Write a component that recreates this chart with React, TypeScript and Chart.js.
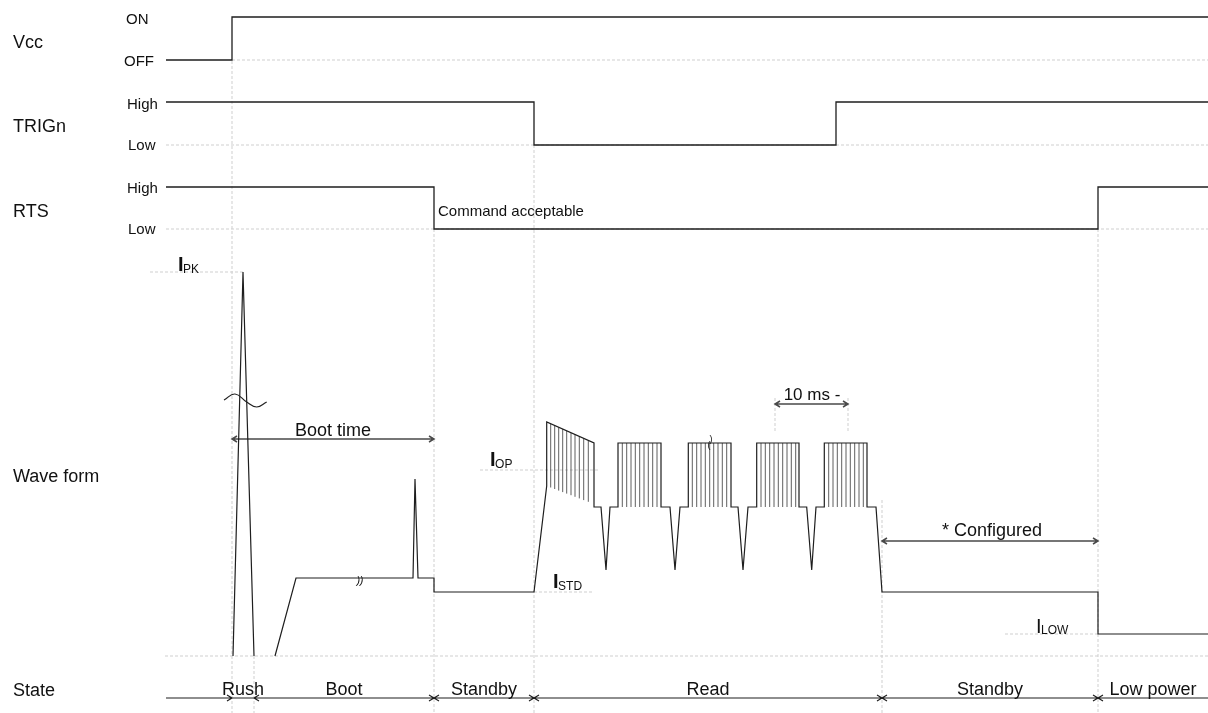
import React, { useEffect, useRef } from 'react';
import { Chart, registerables } from 'chart.js';

Chart.register(...registerables);

const W = 1208;
const H = 713;

// ---------- digital signals (time units, logic level) ----------
const vccTime = [166, 232, 232, 1208];
const vccLevel = [0, 0, 1, 1];
const trigTime = [166, 534, 534, 836, 836, 1208];
const trigLevel = [1, 1, 0, 0, 1, 1];
const rtsTime = [166, 434, 434, 1098, 1098, 1208];
const rtsLevel = [1, 1, 0, 0, 1, 1];

// ---------- current reference levels (arbitrary current units) ----------
const I_PK = 384;
const I_OP = 186;
const I_STD = 64;
const I_LOW = 22;

// ---------- current waveform ----------
const rushTime = [233, 243, 254];
const rushCurrent = [0, 384, 0];

const waveTime = [
  275, 296, 413, 415, 418, 434, 434, 534, 546.7, 546.7, 594, 594, 601, 606, 610,
  618, 618, 661, 661, 670, 675, 680, 688.3, 688.3, 731, 731, 738, 743, 748,
  756.7, 756.7, 799, 799, 806.7, 811.7, 816, 824.3, 824.3, 867, 867, 876, 882,
  1098, 1098, 1208,
];
const waveCurrent = [
  0, 78, 78, 177, 78, 78, 64, 64, 170, 234, 213, 149, 149, 86, 149,
  149, 213, 213, 149, 149, 86, 149, 149, 213, 213, 149, 149, 86, 149,
  149, 213, 213, 149, 149, 86, 149, 149, 213, 213, 149, 149, 64,
  64, 22, 22,
];

const pulseTime = [
  550.7, 554.7, 558.7, 562.7, 566.7, 571, 575, 579.3, 583.7, 588.3,
  622.3, 626.7, 631, 635.3, 639.7, 644, 648.3, 652.7, 657,
  692.3, 696.7, 701, 705.3, 709.7, 713.7, 718, 722.3, 726.7,
  761, 765.3, 769.7, 774, 778.3, 782.7, 787, 791.3, 795.7,
  828.7, 833, 837.3, 841.7, 846, 850.3, 854.7, 859, 863.3,
];
const pulseTop = [
  232, 230.5, 228.7, 227, 225, 223, 221.5, 219.5, 217.5, 215.5,
  213, 213, 213, 213, 213, 213, 213, 213, 213,
  213, 213, 213, 213, 213, 213, 213, 213, 213,
  213, 213, 213, 213, 213, 213, 213, 213, 213,
  213, 213, 213, 213, 213, 213, 213, 213, 213,
];
const pulseBase = [
  168.5, 167, 165.4, 163.9, 162.4, 160.8, 159.2, 157.6, 155.9, 154.2,
  149, 149, 149, 149, 149, 149, 149, 149, 149,
  149, 149, 149, 149, 149, 149, 149, 149, 149,
  149, 149, 149, 149, 149, 149, 149, 149, 149,
  149, 149, 149, 149, 149, 149, 149, 149, 149,
];

const breakTime = [224, 235, 246.7, 256.7, 266.7];
const breakCurrent = [256, 262, 254, 249, 254];

// ---------- states ----------
const stateNames = ['Rush', 'Boot', 'Standby', 'Read', 'Standby', 'Low power'];
const stateStart = [232, 254, 434, 534, 882, 1098];
const stateEnd = [254, 434, 534, 882, 1098, 1208];

// ---------- helpers ----------
const GAP = { x: NaN, y: NaN };
const FONT = '"Liberation Sans", Arial, sans-serif';

function levelAxis(hiPx: number, loPx: number) {
  const d = loPx - hiPx;
  return { min: (loPx - H) / d, max: loPx / d };
}

function pts(xs: number[], ys: number[]) {
  return xs.map((x, i) => ({ x, y: ys[i] }));
}

function ds(data: any[], axis: string, color: string, width: number, dash: number[] = [], tension = 0) {
  return {
    data,
    yAxisID: axis,
    showLine: true,
    borderColor: color,
    backgroundColor: color,
    borderWidth: width,
    borderDash: dash,
    pointRadius: 0,
    pointHoverRadius: 0,
    pointHitRadius: 0,
    tension,
    fill: false,
  };
}

function arrowPoints(x1: number, x2: number, y: number, heads: { at: number; dir: number }[]) {
  const out: any[] = [{ x: x1, y }, { x: x2, y }];
  heads.forEach((h) => {
    out.push(GAP, { x: h.at - 5 * h.dir, y: y - 3 }, { x: h.at, y }, { x: h.at - 5 * h.dir, y: y + 3 });
  });
  return out;
}

type Label = { text: string; x: number; y: number; size: number; align?: CanvasTextAlign; bold?: boolean; italic?: boolean };

function buildLabels(): Label[] {
  const L: Label[] = [
    { text: 'Vcc', x: 13, y: 48, size: 18 },
    { text: 'TRIGn', x: 13, y: 132, size: 18 },
    { text: 'RTS', x: 13, y: 217, size: 18 },
    { text: 'Wave form', x: 13, y: 482, size: 18 },
    { text: 'State', x: 13, y: 696, size: 18 },
    { text: 'ON', x: 126, y: 23.5, size: 15 },
    { text: 'OFF', x: 124, y: 66, size: 15 },
    { text: 'High', x: 127, y: 108.5, size: 15 },
    { text: 'Low', x: 128, y: 150, size: 15 },
    { text: 'High', x: 127, y: 192.5, size: 15 },
    { text: 'Low', x: 128, y: 234, size: 15 },
    { text: 'Command acceptable', x: 438, y: 216, size: 15 },
    { text: 'Boot time', x: 333, y: 436, size: 18, align: 'center' },
    { text: '10 ms -', x: 812, y: 400, size: 17, align: 'center' },
    { text: '* Configured', x: 942, y: 536, size: 18 },
    { text: '))', x: 360, y: 584, size: 10, align: 'center', italic: true },
  ];
  stateNames.forEach((n, i) => {
    L.push({ text: n, x: (stateStart[i] + stateEnd[i]) / 2, y: 695, size: 18, align: 'center' });
  });
  return L;
}

const subLabels = [
  { main: 'I', sub: 'PK', x: 178, y: 271, subY: 273, bold: true },
  { main: 'I', sub: 'OP', x: 490, y: 466, subY: 467.5, bold: true },
  { main: 'I', sub: 'STD', x: 553, y: 588, subY: 590, bold: true },
  { main: 'I', sub: 'LOW', x: 1036, y: 633, subY: 634, bold: false },
];

const textPlugin = {
  id: 'diagramText',
  afterDatasetsDraw(chart: any) {
    const ctx = chart.ctx as CanvasRenderingContext2D;
    const xs = chart.scales.x;
    const ys = chart.scales.yL;
    ctx.save();
    ctx.fillStyle = '#111';
    ctx.textBaseline = 'alphabetic';
    buildLabels().forEach((l) => {
      ctx.font = `${l.italic ? 'italic ' : ''}${l.bold ? 'bold ' : ''}${l.size}px ${FONT}`;
      ctx.textAlign = l.align || 'left';
      ctx.fillText(l.text, xs.getPixelForValue(l.x), ys.getPixelForValue(l.y));
    });
    subLabels.forEach((s) => {
      ctx.textAlign = 'left';
      ctx.font = `${s.bold ? 'bold ' : ''}20px ${FONT}`;
      const px = xs.getPixelForValue(s.x);
      ctx.fillText(s.main, px, ys.getPixelForValue(s.y));
      const w = ctx.measureText(s.main).width;
      ctx.font = `12px ${FONT}`;
      ctx.fillText(s.sub, px + w - 0.5, ys.getPixelForValue(s.subY));
    });
    // small break mark on read burst
    ctx.font = `9px ${FONT}`;
    ctx.textAlign = 'center';
    ctx.fillText(')', xs.getPixelForValue(711), ys.getPixelForValue(442));
    ctx.fillText('(', xs.getPixelForValue(709), ys.getPixelForValue(448));
    ctx.restore();
  },
};

function buildDatasets() {
  const SIG = '#1e1e1e';
  const GUIDE = '#cfcfcf';
  const ARROW = '#4a4a4a';
  const dash = [3, 2];

  // waveform with gap between rush spike and boot
  const wave = [...pts(rushTime, rushCurrent), GAP, ...pts(waveTime, waveCurrent)];

  const pulses: any[] = [];
  pulseTime.forEach((t, i) => {
    pulses.push({ x: t, y: pulseBase[i] }, { x: t, y: pulseTop[i] }, GAP);
  });

  // vertical guides: [time, top, bottom] (layout px)
  const vGuides: [number, number, number][] = [
    [232, 61, H], [254, 656, H], [434, 229, H], [534, 145, H], [882, 500, H], [1098, 229, H],
    [775, 398, 432], [848, 398, 432],
  ];
  const vData: any[] = [];
  vGuides.forEach(([t, a, b]) => vData.push({ x: t, y: a }, { x: t, y: b }, GAP));

  const iGuides = [
    { x: 150, y: I_PK }, { x: 243, y: I_PK }, GAP,
    { x: 480, y: I_OP }, { x: 600, y: I_OP }, GAP,
    { x: 534, y: I_STD }, { x: 592, y: I_STD }, GAP,
    { x: 1005, y: I_LOW }, { x: 1098, y: I_LOW }, GAP,
    { x: 165, y: 0 }, { x: 1208, y: 0 },
  ];

  // state line with arrow heads
  const state: any[] = [{ x: 166, y: 698 }, { x: 1208, y: 698 }];
  const heads = [
    { at: 232, dir: 1 }, { at: 254, dir: -1 },
    { at: 434, dir: 1 }, { at: 434, dir: -1 },
    { at: 534, dir: 1 }, { at: 534, dir: -1 },
    { at: 882, dir: 1 }, { at: 882, dir: -1 },
    { at: 1098, dir: 1 }, { at: 1098, dir: -1 },
  ];
  heads.forEach((h) => state.push(GAP, { x: h.at - 5 * h.dir, y: 695 }, { x: h.at, y: 698 }, { x: h.at - 5 * h.dir, y: 701 }));

  return [
    ds(pts(vccTime, vccLevel), 'yVcc', SIG, 1.3),
    ds(pts(trigTime, trigLevel), 'yTrig', SIG, 1.3),
    ds(pts(rtsTime, rtsLevel), 'yRts', SIG, 1.3),
    ds(wave, 'yI', SIG, 1.2),
    ds(pulses, 'yI', '#4d4d4d', 0.9),
    ds(pts(breakTime, breakCurrent), 'yI', '#222', 1.2, [], 0.45),
    ds(state, 'yL', SIG, 1.2),
    ds(arrowPoints(232, 434, 439, [{ at: 232, dir: -1 }, { at: 434, dir: 1 }]), 'yL', ARROW, 1.5),
    ds(arrowPoints(775, 848, 404, [{ at: 775, dir: -1 }, { at: 848, dir: 1 }]), 'yL', ARROW, 1.5),
    ds(arrowPoints(882, 1098, 541, [{ at: 882, dir: -1 }, { at: 1098, dir: 1 }]), 'yL', ARROW, 1.5),
    ds([{ x: 232, y: 0 }, { x: 1208, y: 0 }], 'yVcc', GUIDE, 1, dash),
    ds([{ x: 166, y: 0 }, { x: 1208, y: 0 }], 'yTrig', GUIDE, 1, dash),
    ds([{ x: 166, y: 0 }, { x: 1208, y: 0 }], 'yRts', GUIDE, 1, dash),
    ds(iGuides, 'yI', GUIDE, 1, dash),
    ds(vData, 'yL', GUIDE, 1, dash),
  ];
}

export default function App() {
  const ref = useRef<HTMLCanvasElement>(null);
  useEffect(() => {
    if (!ref.current) return;
    const hidden = { display: false, ticks: { display: false }, grid: { display: false } };
    const chart = new Chart(ref.current, {
      type: 'scatter',
      data: { datasets: buildDatasets() as any },
      options: {
        responsive: false,
        animation: false,
        events: [],
        layout: { padding: 0 },
        plugins: { legend: { display: false }, tooltip: { enabled: false } },
        scales: {
          x: { type: 'linear', min: 0, max: W, bounds: 'data', ...hidden },
          yL: { type: 'linear', min: 0, max: H, reverse: true, bounds: 'data', ...hidden },
          yVcc: { type: 'linear', ...levelAxis(17, 60), bounds: 'data', ...hidden },
          yTrig: { type: 'linear', ...levelAxis(102, 145), bounds: 'data', ...hidden },
          yRts: { type: 'linear', ...levelAxis(187, 229), bounds: 'data', ...hidden },
          yI: { type: 'linear', min: 656 - H, max: 656, bounds: 'data', ...hidden },
        } as any,
      },
      plugins: [textPlugin],
    });
    return () => chart.destroy();
  }, []);
  return (
    <div style={{ position: 'absolute', left: 0, top: 0, width: W, height: H, background: '#fff' }}>
      <canvas ref={ref} width={W} height={H} style={{ display: 'block', width: W, height: H }} />
    </div>
  );
}
